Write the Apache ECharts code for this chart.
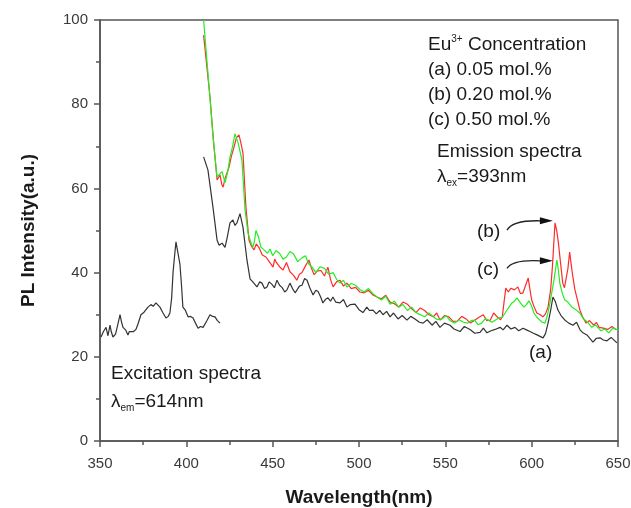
<!DOCTYPE html>
<html>
<head>
<meta charset="utf-8">
<script src="https://cdn.jsdelivr.net/npm/echarts@6/dist/echarts.min.js"></script>
<style>html,body{margin:0;padding:0;background:#fff}#c{width:631px;height:508px}</style>
</head>
<body>
<div id="c"></div>
<script>
// ---- data (wavelength nm, intensity a.u.) ----
const excitation = [[350.6,24.7],[352,26],[353.5,27],[354.6,25],[355.8,27.5],[356.5,26],[357.5,24.7],[359,25.4],[360.5,28],[361.6,30],[362.5,28.2],[363.3,27],[364.8,26.4],[366.2,25.2],[367,26],[368,26.4],[369.5,26],[370.8,26.5],[372,27.8],[373.7,30],[375.5,30.6],[377.8,31.8],[379.5,32.4],[380.8,32],[382.4,32.8],[383.5,32.6],[384.7,31.8],[386.5,30.4],[388.2,29.2],[389.5,29.6],[390.5,30.4],[391.5,34],[392.3,40],[393.2,44],[394,47.3],[395,45],[396.3,42],[397.2,37],[398,31.8],[399.5,31],[401,29.5],[402.5,29.6],[403.9,29.2],[405.3,28],[406.8,26.8],[408.2,27.2],[409.7,27],[411.8,28.5],[413.7,30],[415.2,29.6],[416.6,29.5],[418,28.6],[419.5,28]];

const emissionA = [[410,67.5],[412.5,64.4],[415.4,55.6],[417.8,47.7],[419,46.5],[420.7,47],[422.4,46],[423.6,48.2],[425.3,51.8],[427,52.5],[428.2,51.2],[429.3,51.8],[431.1,54],[432.8,50.8],[435.1,43],[436.9,38.5],[438.5,37.8],[440.9,36.6],[442.5,37.8],[443.8,37.5],[445.3,36.2],[446.7,36.6],[448,37.8],[449.6,37.2],[451,36.4],[452.5,38.2],[454,37],[455.4,36.5],[457,35.4],[458.3,35.9],[460,37.5],[461.5,36.2],[463,35.2],[464.1,35.9],[465.5,36.8],[467,37],[468.5,38.6],[469.9,38.2],[471.5,36.4],[473.4,34.7],[475,35.8],[476.3,35.5],[477.8,34.2],[479.1,32.8],[480.5,33.6],[482,34],[483.5,33.2],[484.9,34.2],[486.5,33],[489,32.8],[491,33.6],[493,31.8],[495,32.4],[497.7,32.5],[500,31.2],[502.3,30.5],[504.5,31.8],[506,31],[508.1,31.1],[510,30.2],[512,31],[513.9,30],[516,30.8],[518,29.5],[520,30.4],[522.6,29],[525,29.8],[527.8,28.7],[530,29.6],[532.4,29],[535,28.2],[537.1,28],[539.5,28.8],[542.3,27.5],[544.5,28.4],[546.9,27],[549.5,28],[552.7,27.5],[555,26.6],[558.5,26],[561,27.2],[564.3,26.5],[567,25.6],[570.1,25.8],[572,26.8],[574.1,25.7],[576.5,26.2],[578.8,26.5],[581.7,27],[583.5,26.4],[585.7,27.5],[588,26.6],[590.3,27],[592.5,26.2],[595,26.8],[597,26.4],[599,26],[601,25.6],[603.1,25.2],[606.6,24.5],[608,25.5],[609.5,28],[611,31],[612.3,34.2],[613.8,33],[615.2,31.1],[617,29.8],[619.3,28.7],[621.5,28],[623.9,27.5],[626,28.2],[628,26.4],[629.7,25.7],[632,25.2],[635.5,23.5],[637.5,24.4],[639.6,24.5],[641.5,24],[643.6,23.8],[646,24.6],[649.4,23.3]];

const emissionB = [[410,96.4],[413.7,81.7],[416,70],[417.8,62],[419.5,63.2],[420.5,61],[421.3,60.3],[422.5,62.5],[424.7,65],[426,67.5],[427.6,69.8],[429,72],[430.5,72.7],[431.5,71],[432.8,68.4],[434.5,55.6],[436.3,47.7],[437.8,46.2],[439.2,45.4],[440.5,46.8],[442,46],[444,44.2],[446.1,43.7],[448,42.6],[450.2,41.3],[451.2,43.2],[452,42.5],[454,41.4],[456,40.6],[458,42.4],[460,40.2],[462,39.4],[464,38.2],[465.5,39.6],[467,40],[469,41.6],[471,43],[472.5,41],[474,39.5],[476,40.4],[478,40.5],[480,39.2],[482,41.3],[483.5,38.4],[485,36.6],[487,37.8],[489,38.2],[491,36.8],[493,37.5],[495.5,36.2],[498,36.5],[500.5,35.4],[503,35.2],[505.5,35.8],[508,34.7],[510.5,34.2],[513,33.8],[515.5,34.6],[518,33],[520.5,32.6],[523,31.8],[525.5,33],[528,32.5],[530.5,31.4],[533,30.5],[535.5,31.6],[538,31],[540.5,30],[543,29.5],[545,30.4],[547,28.7],[549.5,29.8],[552,29.5],[554.5,28.4],[557,28.5],[559.5,29.6],[562,29],[564.5,28],[567,28.7],[569.5,29.4],[572,30],[574,28.6],[576,28.7],[578,30.4],[580,29.5],[582,28.8],[583,29.5],[584,33],[585,36.3],[586.5,35.4],[588,36.3],[590,35.9],[592,36.6],[593.5,35],[595,35.2],[596.5,37],[598,38.7],[599,36],[600,33.5],[601.5,31.8],[603,30.4],[605,30],[606.5,29.5],[608,30.2],[609.5,31.8],[611,36],[612,41.3],[613.5,51.8],[614.5,50],[615.5,47],[616.8,42],[618,37.5],[619,36.4],[620,36.6],[621,41],[622,44.9],[623.5,40],[625,36],[626.5,33.5],[628,31],[629.5,29.5],[631.5,28],[633.5,28.6],[636,27.5],[637.5,28.2],[639,27],[641.5,26.8],[644,26.5],[646.5,27.2],[649,26.4]];

const emissionC = [[410,100],[413,85],[415.5,72],[417.8,62.7],[419.5,63.5],[420.7,64],[422.4,61.3],[424,64],[425.3,67.5],[426.8,70],[428.2,73],[430,70.8],[432.2,66.7],[434,54.9],[435.7,49.4],[437.5,47],[438.5,46],[439.5,47.5],[440.3,50],[441.8,48.5],[443.2,46],[445,45.4],[447,44.6],[448.5,45.6],[450,44],[452,45.2],[454,44.6],[456,43.2],[458,43.7],[460,45],[462,44.5],[464.5,42.6],[467,43.5],[469,44],[471,42],[473,41.2],[475,40],[477.5,41.4],[480,41],[482.5,39.6],[485,40],[487,38.4],[489,37.5],[491,38.2],[493,36.6],[495.5,37.4],[498,37],[500.5,36],[503,35.4],[505.5,36.2],[508,35],[510.5,34.2],[513,33.5],[515.5,34.4],[518,32.5],[520.5,33.2],[523,31.8],[525.5,32.4],[528,31],[530.5,31.8],[533,30.5],[535.5,30],[538,29.5],[540.5,30.4],[543,29.5],[545.5,28.8],[548,29],[550.5,29.8],[553,28.5],[555.5,28],[558,28.8],[560.5,28.2],[563,28],[565,28.6],[567,28.7],[569,27.6],[571,28],[573,29],[575,28.7],[577,28.2],[578.8,28.7],[581,29.2],[583,29.4],[584.6,30.4],[586.5,31.6],[588.6,32.8],[590,33.2],[591.5,34],[593.5,32.8],[595.5,31.8],[597,32.4],[598.4,33.3],[600,32],[601.3,30.4],[603,29.4],[604.8,28.7],[606.2,28.2],[607.7,28],[609.2,30],[610.6,32.8],[612.9,38.2],[614.6,43],[615.5,40.5],[616.3,37.5],[617.8,35],[619.2,33.5],[621,33],[623.3,31.8],[625.5,31.2],[627.9,30.4],[630,29],[632,28.4],[634.8,27],[637,27.6],[640,26.2],[642.5,26.6],[644.6,25.7],[647,26.8],[650,26.4]];

const xTicks = [350, 400, 450, 500, 550, 600, 650];
const yTicks = [0, 20, 40, 60, 80, 100];

// annotation anchors in data coordinates
const arrowB = {from: [585.7, 50.1], ctrl: [589, 52.5], to: [612.3, 52.3]};
const arrowC = {from: [585.7, 41.0], ctrl: [589, 43.2], to: [612.3, 42.8]};

const chart = echarts.init(document.getElementById('c'));
const FONT = 'Liberation Sans, Arial, sans-serif';
const TXT = '#1a1a1a';

function lineSeries(data, color) {
  return {type: 'line', data: data, showSymbol: false, symbol: 'none', smooth: false,
    lineStyle: {color: color, width: 1.2}, animation: false, clip: true, z: 3};
}

chart.setOption({
  animation: false,
  backgroundColor: '#fff',
  grid: {left: 100, right: 13, top: 20, bottom: 67, outerBoundsMode: 'none', containLabel: false,
    show: true, borderColor: '#555', borderWidth: 1.5, backgroundColor: 'transparent'},
  xAxis: {
    type: 'value', min: xTicks[0], max: xTicks[xTicks.length - 1], interval: 50,
    name: 'Wavelength(nm)', nameLocation: 'middle', nameGap: 47,
    nameTextStyle: {fontFamily: FONT, fontWeight: 'bold', fontSize: 19, color: TXT},
    axisLine: {lineStyle: {color: '#555', width: 1.5}},
    axisTick: {show: true, inside: false, length: 6, lineStyle: {color: '#555', width: 1.5}},
    minorTick: {show: true, splitNumber: 2, length: 4, lineStyle: {color: '#555', width: 1.5}},
    axisLabel: {fontFamily: FONT, fontSize: 15, color: '#3a3a3a', margin: 15},
    splitLine: {show: false}
  },
  yAxis: {
    type: 'value', min: yTicks[0], max: yTicks[yTicks.length - 1], interval: 20,
    name: 'PL Intensity(a.u.)', nameLocation: 'middle', nameGap: 62,
    nameTextStyle: {fontFamily: FONT, fontWeight: 'bold', fontSize: 19, color: TXT},
    axisLine: {lineStyle: {color: '#555', width: 1.5}},
    axisTick: {show: true, inside: false, length: 6, lineStyle: {color: '#555', width: 1.5}},
    minorTick: {show: true, splitNumber: 2, length: 4, lineStyle: {color: '#555', width: 1.5}},
    axisLabel: {fontFamily: FONT, fontSize: 15, color: '#3a3a3a', margin: 12},
    splitLine: {show: false}
  },
  series: [
    lineSeries(excitation, '#333333'),
    lineSeries(emissionA, '#333333'),
    lineSeries(emissionB, '#ff2a2a'),
    lineSeries(emissionC, '#22ee22')
  ]
});

function px(p) { return chart.convertToPixel({gridIndex: 0}, p); }

function arrow(a) {
  const f = px(a.from), c = px(a.ctrl), t = px(a.to);
  return [
    {type: 'bezierCurve', shape: {x1: f[0], y1: f[1], x2: t[0] - 12, y2: t[1], cpx1: c[0], cpy1: c[1]},
      style: {stroke: '#222', lineWidth: 1.3, fill: null}, z: 10},
    {type: 'polygon', shape: {points: [[t[0] - 13, t[1] - 3.5], [t[0], t[1]], [t[0] - 13, t[1] + 3.5]]},
      style: {fill: '#111'}, z: 10}
  ];
}

const base = {fontFamily: FONT, fontSize: 19, fill: TXT};
function txt(x, y, text, rich) {
  return {type: 'text', x: x, y: y, z: 20,
    style: Object.assign({}, base, {text: text, verticalAlign: 'middle', align: 'left', rich: rich || {}})};
}
const richSub = {
  n: {fontFamily: FONT, fontSize: 19, color: TXT, lineHeight: 22, verticalAlign: 'middle'},
  sub: {fontFamily: FONT, fontSize: 10, color: TXT, lineHeight: 22, verticalAlign: 'bottom'},
  sup: {fontFamily: FONT, fontSize: 10, color: TXT, lineHeight: 22, verticalAlign: 'top'}
};

chart.setOption({
  graphic: [
    txt(428, 45, '{n|Eu}{sup|3+}{n| Concentration}', richSub),
    txt(428, 70, '(a) 0.05 mol.%'),
    txt(428, 95, '(b) 0.20 mol.%'),
    txt(428, 120, '(c) 0.50 mol.%'),
    txt(437, 152, 'Emission spectra'),
    txt(437, 177, '{n|λ}{sub|ex}{n|=393nm}', richSub),
    txt(111, 374, 'Excitation spectra'),
    txt(111, 402, '{n|λ}{sub|em}{n|=614nm}', richSub),
    txt(477, 232, '(b)'),
    txt(477, 270, '(c)'),
    txt(529, 353, '(a)')
  ].concat(arrow(arrowB), arrow(arrowC))
});
</script>
</body>
</html>
